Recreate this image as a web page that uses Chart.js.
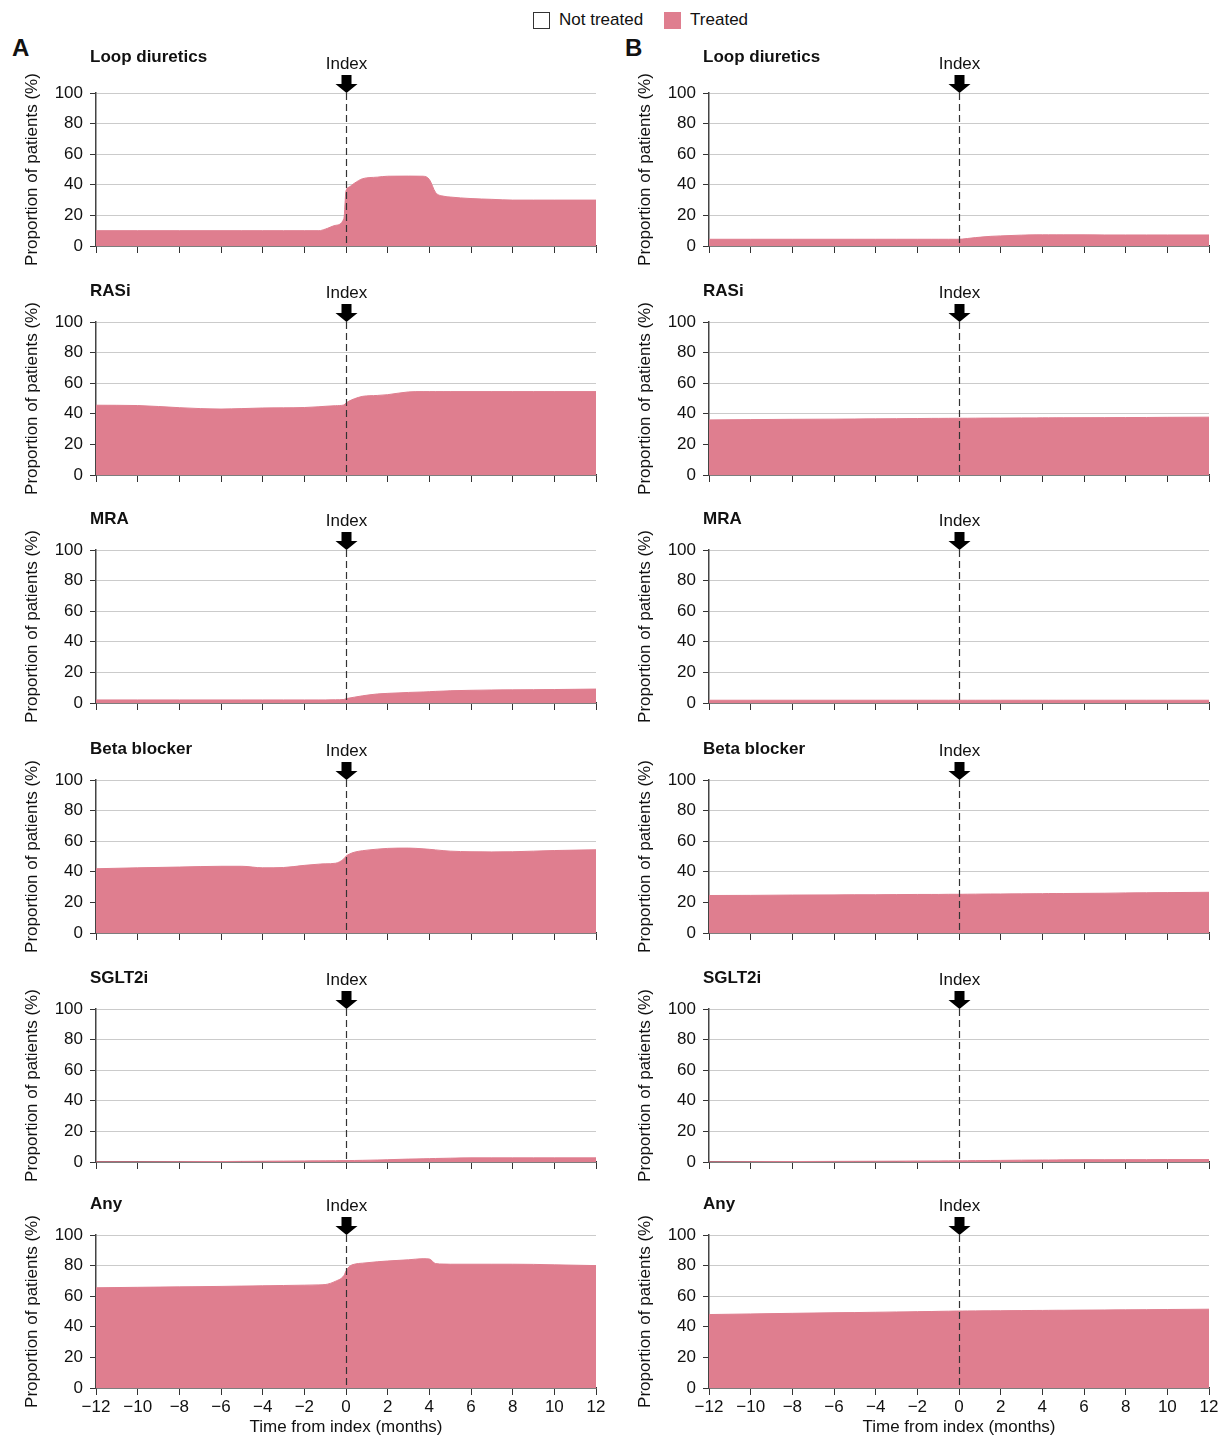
<!DOCTYPE html>
<html>
<head>
<meta charset="utf-8">
<title>Treatment proportions around index</title>
<script src="https://cdn.jsdelivr.net/npm/chart.js@4.4.1/dist/chart.umd.min.js"></script>
<style>
  body { margin: 0; background: #fff; width: 1223px; height: 1439px; position: relative; overflow: hidden;
         font-family: "Liberation Sans", Arial, sans-serif; color: #111; }
  canvas { position: absolute; }
  .legend { position: absolute; top: 10px; left: 533px; font-size: 17px; line-height: 20px; display: flex; align-items: center; }
  .legend .sw { display: inline-block; width: 17px; height: 17px; box-sizing: border-box; margin-right: 9px; }
  .legend .item { display: flex; align-items: center; margin-right: 21px; }
  .panel { position: absolute; top: 34px; font-weight: bold; font-size: 24px; line-height: 28px; }
</style>
</head>
<body>
<div class="legend">
  <span class="item"><span class="sw" style="border:1.5px solid #333;background:#fff"></span>Not treated</span>
  <span class="item"><span class="sw" style="background:#df7e8f"></span>Treated</span>
</div>
<div class="panel" style="left:12px">A</div>
<div class="panel" style="left:625px">B</div>

<script>
// Meses respecto al índice (rejilla común para todos los paneles)
const months = [-12, -10, -8, -6, -5, -4, -3, -2, -1.3, -1, -0.5, -0.1, 0, 0.15, 0.4, 0.8, 1.5, 2, 3, 3.7, 4, 4.3, 4.7, 5, 6, 7, 8, 9, 10, 12];

const drugClasses = ['Loop diuretics', 'RASi', 'MRA', 'Beta blocker', 'SGLT2i', 'Any'];

// Panel A (% de pacientes tratados)
const loopA  = [10, 10, 10, 10, 10, 10, 10, 10, 10, 11, 13.5, 18, 36, 38.5, 41, 44, 45, 45.6, 45.7, 45.6, 43.5, 35, 32.5, 32, 31, 30.5, 30, 30, 30, 30];
const rasiA  = [45.6, 45.4, 44.0, 43.1, 43.4, 43.8, 43.9, 44.1, 44.6, 44.9, 45.3, 45.8, 47.0, 48.3, 49.8, 51.4, 52.0, 52.5, 54.3, 54.5, 54.5, 54.5, 54.5, 54.5, 54.5, 54.5, 54.5, 54.5, 54.5, 54.5];
const mraA   = [2.0, 2.0, 2.0, 2.0, 2.0, 2.0, 2.0, 2.0, 2.0, 2.0, 2.1, 2.3, 2.8, 3.2, 3.8, 4.7, 5.9, 6.3, 6.9, 7.2, 7.4, 7.6, 7.8, 8.0, 8.3, 8.5, 8.6, 8.7, 8.8, 9.1];
const betaA  = [42.0, 42.6, 43.1, 43.6, 43.6, 42.6, 42.8, 44.2, 45.0, 45.2, 45.6, 48.5, 50.2, 51.5, 52.8, 53.8, 54.8, 55.3, 55.5, 55.0, 54.7, 54.3, 53.8, 53.5, 53.1, 53.0, 53.1, 53.5, 53.9, 54.4];
const sglt2A = [0.1, 0.1, 0.2, 0.3, 0.4, 0.5, 0.6, 0.7, 0.75, 0.8, 0.85, 0.9, 0.9, 0.95, 1.0, 1.1, 1.3, 1.5, 1.9, 2.1, 2.2, 2.3, 2.4, 2.5, 2.7, 2.7, 2.7, 2.7, 2.7, 2.7];
const anyA   = [65.5, 65.8, 66.1, 66.4, 66.6, 66.8, 67.0, 67.2, 67.4, 67.6, 69.8, 73.5, 76.4, 79.3, 80.9, 81.6, 82.5, 83.0, 83.8, 84.5, 84.3, 81.3, 81.0, 80.9, 80.9, 80.9, 80.9, 80.8, 80.5, 80.0];

// Panel B
const loopB  = [4.4, 4.4, 4.4, 4.4, 4.4, 4.4, 4.4, 4.4, 4.4, 4.4, 4.4, 4.4, 4.4, 4.5, 4.9, 5.5, 6.3, 6.6, 7.1, 7.3, 7.3, 7.3, 7.3, 7.3, 7.3, 7.2, 7.2, 7.2, 7.2, 7.2];
const rasiB  = [36.0, 36.2, 36.4, 36.5, 36.6, 36.7, 36.8, 36.9, 37.0, 37.0, 37.05, 37.1, 37.1, 37.1, 37.1, 37.15, 37.2, 37.2, 37.3, 37.3, 37.35, 37.35, 37.4, 37.4, 37.45, 37.5, 37.55, 37.6, 37.7, 37.8];
const mraB   = [1.8, 1.8, 1.8, 1.8, 1.8, 1.8, 1.8, 1.8, 1.8, 1.8, 1.8, 1.8, 1.8, 1.8, 1.8, 1.8, 1.8, 1.8, 1.8, 1.8, 1.8, 1.8, 1.8, 1.8, 1.8, 1.8, 1.8, 1.8, 1.8, 1.8];
const betaB  = [24.5, 24.6, 24.8, 24.9, 25.0, 25.0, 25.1, 25.2, 25.2, 25.2, 25.3, 25.3, 25.3, 25.3, 25.35, 25.4, 25.5, 25.5, 25.6, 25.7, 25.7, 25.8, 25.8, 25.8, 25.9, 26.0, 26.2, 26.3, 26.4, 26.6];
const sglt2B = [0.1, 0.2, 0.3, 0.4, 0.45, 0.5, 0.55, 0.65, 0.7, 0.7, 0.75, 0.8, 0.8, 0.8, 0.85, 0.9, 1.0, 1.05, 1.2, 1.25, 1.3, 1.3, 1.35, 1.4, 1.5, 1.5, 1.55, 1.55, 1.6, 1.6];
const anyB   = [48.0, 48.4, 48.8, 49.2, 49.3, 49.5, 49.7, 49.9, 50.0, 50.1, 50.2, 50.3, 50.3, 50.3, 50.35, 50.4, 50.45, 50.5, 50.6, 50.7, 50.7, 50.75, 50.8, 50.8, 50.9, 51.0, 51.1, 51.2, 51.3, 51.5];

const PINK = '#df7e8f';
const FONT = '"Liberation Sans", Arial, sans-serif';

Chart.defaults.font.family = FONT;
Chart.defaults.font.size = 17;
Chart.defaults.color = '#111';

/**
 * Línea discontinua en el índice, flecha, etiqueta "Index", título del panel y del eje Y
 */
const indexMarker = {
    id: 'indexMarker',
    afterDraw(chart, args, opts) {
        const { ctx, chartArea, scales } = chart;
        const x0 = Math.round(scales.x.getPixelForValue(0)) + 0.5;
        const t = chartArea.top;
        ctx.save();

        ctx.strokeStyle = '#333';
        ctx.lineWidth = 1.2;
        ctx.setLineDash([7, 4]);
        ctx.beginPath();
        ctx.moveTo(x0, t);
        ctx.lineTo(x0, chartArea.bottom);
        ctx.stroke();
        ctx.setLineDash([]);

        ctx.fillStyle = '#000';
        ctx.beginPath();
        ctx.moveTo(x0 - 5, t - 18);
        ctx.lineTo(x0 + 5, t - 18);
        ctx.lineTo(x0 + 5, t - 9);
        ctx.lineTo(x0 + 11, t - 9);
        ctx.lineTo(x0, t);
        ctx.lineTo(x0 - 11, t - 9);
        ctx.lineTo(x0 - 5, t - 9);
        ctx.closePath();
        ctx.fill();

        ctx.fillStyle = '#111';
        ctx.textBaseline = 'middle';
        ctx.font = '17px ' + FONT;
        ctx.textAlign = 'center';
        ctx.fillText('Index', x0, t - 29);

        ctx.font = 'bold 17px ' + FONT;
        ctx.textAlign = 'left';
        ctx.fillText(opts.title, chartArea.left - 6, t - opts.titleOffset);

        ctx.translate(chartArea.left - 64, (chartArea.top + chartArea.bottom) / 2);
        ctx.rotate(-Math.PI / 2);
        ctx.font = '17px ' + FONT;
        ctx.textAlign = 'center';
        ctx.fillText('Proportion of patients (%)', 0, 0);
        ctx.restore();
    }
};

const columns = [
    { left: 0, width: 612, padRight: 16, series: [loopA, rasiA, mraA, betaA, sglt2A, anyA] },
    { left: 613, width: 610, padRight: 14, series: [loopB, rasiB, mraB, betaB, sglt2B, anyB] }
];
const rowTops = [93, 322, 550, 780, 1009, 1235];
const plotH = 153;
const padTop = 50;

columns.forEach(col => {
    col.series.forEach((values, r) => {
        const last = r === rowTops.length - 1;
        const axisH = last ? 50 : 20;
        const padBottom = last ? 0 : 16;
        const canvas = document.createElement('canvas');
        canvas.width = col.width;
        canvas.height = padTop + plotH + axisH + padBottom;
        canvas.style.left = col.left + 'px';
        canvas.style.top = (rowTops[r] - padTop) + 'px';
        document.body.appendChild(canvas);

        new Chart(canvas, {
            type: 'line',
            data: {
                datasets: [{
                    data: months.map((m, i) => ({ x: m, y: values[i] })),
                    fill: 'origin',
                    backgroundColor: PINK,
                    borderColor: PINK,
                    borderWidth: 1,
                    pointRadius: 0,
                    cubicInterpolationMode: 'monotone'
                }]
            },
            options: {
                responsive: false,
                animation: false,
                events: [],
                layout: {
                    autoPadding: false,
                    padding: { top: padTop, right: col.padRight, bottom: padBottom, left: 0 }
                },
                plugins: {
                    legend: { display: false },
                    tooltip: { enabled: false },
                    indexMarker: { title: drugClasses[r], titleOffset: r === 0 ? 36 : 31 }
                },
                scales: {
                    x: {
                        type: 'linear',
                        min: -12,
                        max: 12,
                        z: 1,
                        ticks: {
                            display: last,
                            stepSize: 2,
                            padding: 2,
                            maxRotation: 0,
                            autoSkip: false,
                            callback: v => String(v).replace('-', '\u2212')
                        },
                        grid: { drawOnChartArea: false, drawTicks: true, tickLength: 7, tickColor: '#333' },
                        border: { color: '#333', width: 1.5 },
                        title: {
                            display: last,
                            text: 'Time from index (months)',
                            padding: { top: 0, bottom: 0 }
                        },
                        afterFit: s => { s.height = axisH; }
                    },
                    y: {
                        min: 0,
                        max: 100,
                        z: 1,
                        ticks: { stepSize: 20, padding: 7 },
                        grid: { color: '#cbcbcb', lineWidth: 1, tickColor: '#333', tickLength: 6 },
                        border: { color: '#444', width: 1.5 },
                        afterFit: s => { s.width = 96; }
                    }
                }
            },
            plugins: [indexMarker]
        });
    });
});
</script>
</body>
</html>
